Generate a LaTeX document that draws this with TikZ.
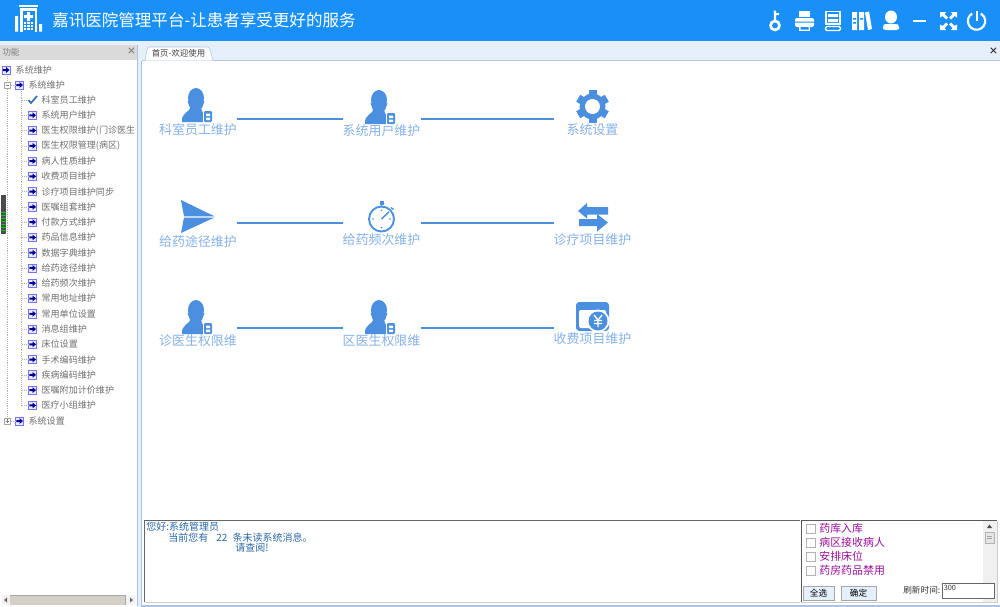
\documentclass[tikz,border=0pt]{standalone}
\usepackage{fontspec}
\setmainfont{Noto Sans CJK SC}
\usetikzlibrary{positioning}

\definecolor{barblue}{HTML}{1890F8}
\definecolor{iconblue}{HTML}{4A8FE0}
\definecolor{labelblue}{HTML}{86B2EC}
\definecolor{paleband}{HTML}{E6EFFC}
\definecolor{panelline}{HTML}{A9C3EA}
\definecolor{headgray}{HTML}{DADADA}
\definecolor{treetext}{HTML}{707070}
\definecolor{msgblue}{HTML}{2A68A8}
\definecolor{notepurple}{HTML}{9A109A}
\definecolor{scrollgray}{HTML}{D4D0C8}

\tikzset{
    tile/.style={minimum width=58.5pt, minimum height=33pt, inner sep=0, outer sep=0},
    tilelabel/.style={font=\fontsize{9.7}{10}\selectfont, text=labelblue, inner sep=0},
    link/.style={draw=iconblue, line width=1.5pt},
    treetxt/.style={font=\fontsize{6.8}{8}\selectfont, text=treetext, anchor=west, inner sep=0},
    treeico/.style={draw=blue!55!white, fill=blue!8, minimum size=6.2pt, inner sep=0, outer sep=0},
    treeline/.style={draw=gray!60, densely dotted, line width=.4pt},
    topicon/.style={fill=white, draw=none},
    topline/.style={draw=white, line width=1.5pt},
    notetxt/.style={font=\fontsize{8.2}{9}\selectfont, text=notepurple, anchor=west, inner sep=0},
    msgtxt/.style={font=\fontsize{7.5}{8}\selectfont, text=msgblue, anchor=west, inner sep=0},
    checkbox/.style={draw=gray!60, fill=white, minimum size=6.5pt, inner sep=0},
    pushbtn/.style={draw=gray!70, fill=paleband, font=\fontsize{6.5}{7}\selectfont, inner sep=0},
    treearrow/.pic={
        \fill[blue!55!black] (-3.2,-1) -- (0,-1) -- (0,-3) -- (3.5,0) -- (0,3) -- (0,1) -- (-3.2,1) -- cycle;
    },
    person/.pic={
        \fill[iconblue] (0,0) ellipse (8 and 10);
        \fill[iconblue] (-8.5,3) -- (8.5,3) -- (6,10) -- (-6,10) -- cycle;
        \fill[iconblue] (-14,24) .. controls (-15,14) and (-6,15) .. (-5,8)
            -- (5,8) .. controls (5,15) and (9,15) .. (11,24) -- cycle;
        \fill[white] (6.5,11.5) rectangle (17,25.5);
        \fill[iconblue, rounded corners=.8] (8,13) rectangle (16,24);
        \fill[white] (10,15.5) rectangle (14,18) (10,19.5) rectangle (14,22);
    }
}

\begin{document}
\begin{tikzpicture}[
        x=0.75pt, y=-0.75pt, % one unit is one pixel, y going down
        line cap=butt
    ]
    \useasboundingbox (0,0) rectangle (1000,607);
    \fill[white] (0,0) rectangle (1000,607);

    % top bar
    \fill[barblue] (0,0) rectangle (1000,41);
    \fill[paleband] (0,41) rectangle (1000,60);
    \fill[paleband] (137,60) rectangle (141,607);
    \node[font=\fontsize{12.4}{14}\selectfont, text=white, anchor=west, inner sep=0] (title) at (52,20.5) {嘉讯医院管理平台-让患者享受更好的服务};

    % logo
    \draw[topline] (19,5.5) -- (38,5.5);
    \fill[white] (20,8) rectangle (37,31.5);
    \fill[barblue] (22.5,10.5) rectangle (34.5,31.5);
    \fill[white] (27,12) rectangle (30,21) (24,15) rectangle (33,18);
    \foreach \wx in {23.5,27,30.5} \foreach \wy in {22,25,28} \fill[white] (\wx,\wy) rectangle +(2.5,2);
    \fill[white] (15,16) rectangle (18,31.5) (39,24) rectangle (42,31.5);

    % top right icons
    \draw[topline, line width=2pt] (775,25.5) circle (4.5);
    \fill[white] (773.8,10.5) rectangle (776.2,21) (776,13) rectangle (779,15);
    \fill[topicon, rounded corners=1.5] (795,18) rectangle (814,27);
    \fill[topicon] (799,11) rectangle (810,17);
    \fill[topicon] (799,26) rectangle (810,31);
    \fill[barblue] (795,21.5) rectangle (814,22.5) (800.5,27) rectangle (808.5,29.5);
    \draw[topline, line width=1pt] (826,11.5) rectangle (840,24);
    \draw[topline, line width=1pt, rounded corners=1] (825.5,26.5) rectangle (840.5,30.5);
    \fill[white] (828,14) rectangle (838,17) (828,19) rectangle (838,22);
    \fill[topicon] (852,12) rectangle (857,30) (859,12) rectangle (864,30);
    \fill[topicon] (865,12.5) -- (869,11.5) -- (872,29) -- (868,30) -- cycle;
    \fill[barblue] (853,18) rectangle (856,19.5) (853,22) rectangle (856,23.5) (860,18) rectangle (863,19.5);
    \fill[topicon] (891,17) ellipse (6 and 6.5);
    \fill[topicon, rounded corners=2] (883,30) -- (883,27) .. controls (884,24) and (898,24) .. (899,27) -- (899,30) -- cycle;
    \fill[topicon] (913,19.5) rectangle (926,21.5);
    \foreach \ax/\ay/\sx/\sy in {940/12/1/1, 957/12/-1/1, 940/30/1/-1, 957/30/-1/-1} {
        \fill[topicon] (\ax,\ay) -- ++(6*\sx,0) -- ++(-1.5*\sx,2*\sy) -- ++(3.5*\sx,3.5*\sy) -- ++(-2*\sx,2*\sy)
            -- ++(-3.5*\sx,-3.5*\sy) -- ++(-2.5*\sx,1.5*\sy) -- cycle;
    }
    \draw[topline, line width=1.6pt] (972.2,13.5) arc[start angle=-120, end angle=-420, radius=8.7]; % y is flipped here
    \fill[white] (975.7,10.5) rectangle (977.7,21);

    % left panel
    \fill[headgray] (0,45) rectangle (137,60);
    \draw[panelline] (137.5,45) -- (137.5,606);
    \node[font=\fontsize{6.5}{7}\selectfont, text=gray, anchor=west, inner sep=0] (panelname) at (2,52.5) {功能};
    \node[font=\bfseries\fontsize{7}{7}\selectfont, text=gray, inner sep=0] (panelclose) at (131.5,51.5) {×};
    \fill[gray!10] (2,595) rectangle (135,605);
    \fill[scrollgray] (10,595.5) rectangle (125,604.5);
    \draw[gray!70] (10,595.5) -- (125,595.5) -- (125,604.5);
    \fill[gray!80!black] (4,600) -- (7,597.5) -- (7,602.5) -- cycle (133,600) -- (130,597.5) -- (130,602.5) -- cycle;

    % splitter grip
    \fill[gray!60!black] (1,195) rectangle (6,234);
    \foreach \gy in {212,215,218,221,224,227,230} \fill[green!80!black] (1,\gy) rectangle (6,\gy+1.2);

    % tree
    \node[treeico] (root) at (6,70) {};
    \node[treetxt, right=4pt of root.east] (roottxt) {系统维护};
    \node[treeico] (sub) at (19.5,85) {};
    \node[treetxt, right=3.5pt of sub.east] (subtxt) {系统维护};
    \node[treeico] (last) at (19.5,421) {};
    \node[treetxt, right=3.5pt of last.east] (lasttxt) {系统设置};
    \coordinate (trunktop) at (21,91);
    \coordinate (rootdrop) at (7.5,76);
    \foreach \txt [count=\i] in {科室员工维护,系统用户维护,医生权限维护(门诊医生,医生权限管理(病区),病人性质维护,收费项目维护,诊疗项目维护同步,医嘱组套维护,付款方式维护,药品信息维护,数据字典维护,给药途径维护,给药频次维护,常用地址维护,常用单位设置,消息组维护,床位设置,手术编码维护,疾病编码维护,医嘱附加计价维护,医疗小组维护} {
        \node[treeico] (ico\i) at (32.5,{100+(\i-1)*15.27}) {};
        \node[treetxt, right=3.5pt of ico\i.east] (txt\i) {\txt};
        \draw[treeline] (ico\i.west) -- (ico\i.west -| trunktop);
        \pic at (ico\i.center) {treearrow};
    }
    \fill[white] (27,95) rectangle (38,105);
    \draw[iconblue!80!black, line width=1.3pt] (28.5,100) -- (31,103) -- (37,96);
    \pic at (root.center) {treearrow};
    \pic at (sub.center) {treearrow};
    \pic at (last.center) {treearrow};
    \draw[treeline] (trunktop) -- (trunktop |- ico21.west);
    \draw[treeline] (rootdrop) -- (rootdrop |- last.west);
    \draw[treeline] (rootdrop |- sub.west) -- (sub.west);
    \draw[treeline] (rootdrop |- last.west) -- (last.west);
    \node[draw=gray!70, fill=white, minimum size=4.5pt, inner sep=0] (subbox) at (7.5,85) {};
    \node[draw=gray!70, fill=white, minimum size=4.5pt, inner sep=0] (lastbox) at (7.5,421) {};
    \draw[gray] (5.8,85) -- (9.2,85) (5.8,421) -- (9.2,421) (7.5,419.3) -- (7.5,422.7);

    % main panel
    \draw[panelline, line width=1pt] (141.5,60.5) -- (1000,60.5);
    \draw[panelline, line width=1pt] (141.5,60.5) -- (141.5,606) -- (1000,606);
    \fill[white] (145,60.5) -- (147,50) .. controls (147.5,47.5) and (148,47) .. (150,47) -- (207,47)
        .. controls (209,47) and (210,48) .. (213,60.5) -- cycle;
    \draw[panelline] (145,60.5) -- (147,50) .. controls (147.5,47.5) and (148,47) .. (150,47) -- (207,47)
        .. controls (209,47) and (210,48) .. (213,60.5);
    \node[font=\fontsize{6.3}{7}\selectfont, text=black!75, inner sep=0] (tabname) at (178.5,53.5) {首页-欢迎使用};
    \node[font=\bfseries\fontsize{7}{7}\selectfont, text=black!80, inner sep=0] (mainclose) at (993.5,51.5) {×};

    % tiles
    \node[tile] (staff) at (198,119) {};
    \node[tile] (user) at (381.5,119) {};
    \node[tile] (setup) at (592.5,119) {};
    \node[tile] (route) at (198,222.5) {};
    \node[tile] (freq) at (381.5,222.5) {};
    \node[tile] (item) at (592.5,222.5) {};
    \node[tile] (clinic) at (198,328) {};
    \node[tile] (ward) at (381.5,328) {};
    \node[tile] (fee) at (592.5,328) {};

    \node[tilelabel] (stafftxt) at (198,130) {科室员工维护};
    \node[tilelabel] (usertxt) at (381.5,131) {系统用户维护};
    \node[tilelabel] (setuptxt) at (592.5,130) {系统设置};
    \node[tilelabel] (routetxt) at (198,241.5) {给药途径维护};
    \node[tilelabel] (freqtxt) at (381.5,240) {给药频次维护};
    \node[tilelabel] (itemtxt) at (592.5,239.5) {诊疗项目维护};
    \node[tilelabel] (clinictxt) at (198,341) {诊医生权限维};
    \node[tilelabel] (wardtxt) at (381.5,341) {区医生权限维};
    \node[tilelabel] (feetxt) at (592.5,339) {收费项目维护};

    \path[link] (staff) -- (user);
    \path[link] (user) -- (setup);
    \path[link] (route) -- (freq);
    \path[link] (freq) -- (item);
    \path[link] (clinic) -- (ward);
    \path[link] (ward) -- (fee);

    % icons
    \pic at (196,98) {person};
    \pic at (379,100) {person};
    \pic at (196,310) {person};
    \pic at (379,310) {person};

    % gear
    \foreach \a in {0,60,...,300}
        \fill[iconblue, rotate around={\a:(592.5,106.5)}] (588.5,90) rectangle (596.5,98);
    \fill[iconblue] (592.5,106.5) circle (13);
    \fill[white] (592.5,106.5) circle (7.5);

    % paper plane
    \fill[iconblue] (181,200) -- (214.5,216.3) -- (184,216.3) -- cycle;
    \fill[iconblue] (214.5,217.5) -- (181,233) -- (184,217.5) -- cycle;

    % stopwatch
    \draw[iconblue, line width=1.4pt] (381.5,219) circle (12.5);
    \fill[iconblue] (379.5,201) rectangle (383.5,204.5);
    \draw[iconblue, line width=1pt] (381.5,204) -- (381.5,206.5);
    \draw[iconblue, line width=1pt] (391,207.5) -- (393.5,209.5);
    \draw[iconblue, line width=1.1pt] (381.5,219) -- (389,212);
    \foreach \tx/\ty in {381.5/210.5,381.5/227.5,373/219,390/219} \fill[iconblue] (\tx,\ty) circle (.9);

    % swap arrows
    \fill[iconblue] (578,211) -- (587,203) -- (587,207) -- (608,207) -- (608,214.5) -- (587,214.5) -- (587,218.5) -- cycle;
    \fill[iconblue] (608,222.5) -- (597,231.5) -- (597,226) -- (579,226) -- (579,219) -- (597,219) -- (597,214) -- cycle;

    % wallet
    \fill[iconblue, rounded corners=2.5] (576,302) rectangle (609,331);
    \fill[white, rounded corners=1] (579,310) rectangle (606,328);
    \fill[white] (598,321) circle (11.5);
    \fill[iconblue] (598,321) circle (9.5);
    \draw[white, line width=1pt] (594,315) -- (598,320) -- (602,315) (598,320) -- (598,327) (594,320.5) -- (602,320.5) (594,323.5) -- (602,323.5);

    % message box
    \fill[white] (144.5,520.5) rectangle (800,602);
    \draw[gray!40] (144.5,602) -- (800,602);
    \draw[gray!80!black] (144.5,602) -- (144.5,520.5) -- (800,520.5);
    \node[msgtxt] (hello) at (146,526.5) {您好:系统管理员};
    \node[msgtxt] (unread) at (168,538) {当前您有\hspace{6pt}22\hspace{4pt}条未读系统消息。};
    \node[msgtxt] (please) at (235,548) {请查阅!};

    % notice box
    \fill[white] (801,520.5) rectangle (997,602);
    \draw[gray!40] (801,602) -- (997,602) -- (997,520.5);
    \draw[gray!70!black, line width=1pt] (801.5,602) -- (801.5,520.5) -- (997,520.5);
    \fill[gray!12] (983,521) rectangle (996.5,601.5);
    \fill[black!70] (989.5,524.5) -- (987,528) -- (992,528) -- cycle;
    \draw[gray!60, fill=gray!20] (985,532) rectangle (994,543);
    \draw[gray!70] (987,536) -- (992,536) (987,538) -- (992,538);
    \foreach \txt [count=\i] in {药库入库,病区接收病人,安排床位,药房药品禁用} {
        \node[checkbox] (chk\i) at (810.5,{528.5+(\i-1)*14}) {};
        \node[notetxt, right=3pt of chk\i.east] (note\i) {\txt};
    }
    \node[pushbtn, minimum width=23pt, minimum height=10.5pt] (allbtn) at (818.5,593) {全选};
    \node[pushbtn, minimum width=26pt, minimum height=10.5pt] (okbtn) at (858.5,593) {确定};
    \node[font=\fontsize{6.5}{7}\selectfont, text=black!80, anchor=west, inner sep=0] (refresh) at (903,590.5) {刷新时间:};
    \node[draw=gray!80!black, fill=white, minimum width=39pt, minimum height=11pt, inner sep=1pt, outer sep=0] (refreshbox) at (968,590.5) {};
    \node[font=\fontsize{5.5}{6}\selectfont, text=black!80, anchor=north west, inner sep=0] (refreshval) at (943.5,584.5) {300};
\end{tikzpicture}
\end{document}
